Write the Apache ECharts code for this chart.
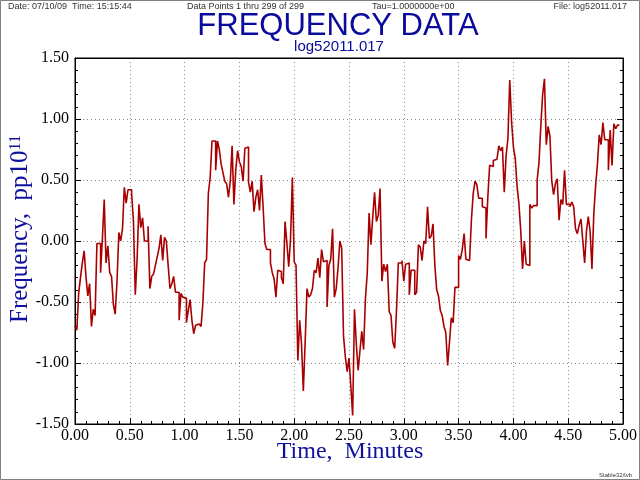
<!DOCTYPE html>
<html><head><meta charset="utf-8">
<script src="https://cdn.jsdelivr.net/npm/echarts@6/dist/echarts.min.js"></script>
<style>html,body{margin:0;padding:0;background:#fff}#c{width:640px;height:480px}</style>
</head><body><div id="c"></div>
<script>
// Frequency samples (pp10^11), one per second, 299 points, grouped by time span
const seg0 = [-0.70,-0.73,-0.43,-0.30,-0.18,-0.08,-0.29,-0.45,-0.35,-0.70,-0.56,-0.61,-0.02,-0.02,-0.26,0.02,0.34,-0.18,-0.04,-0.26,-0.29,-0.52,-0.60,-0.33,0.07,0.00,0.10,0.44,0.31,0.42,0.42,0.39,0.16,-0.44,-0.15,0.30,0.11,0.19];
const seg1 = [0.00,0.00,0.12,-0.39,-0.29,-0.27,-0.20,-0.13,-0.06,0.05,-0.16,0.03,0.00,-0.20,-0.39,-0.35,-0.29,-0.42,-0.42,-0.65,-0.43,-0.46,-0.47,-0.67,-0.57,-0.48,-0.65,-0.76,-0.69,-0.68,-0.69,-0.70,-0.51,-0.18,-0.15,0.39,0.52];
const seg2 = [0.82,0.82,0.58,0.82,0.75,0.63,0.56,0.49,0.47,0.36,0.49,0.78,0.30,0.58,0.74,0.65,0.61,0.49,0.76,0.77,0.48,0.40,0.49,0.24,0.36,0.42,0.25,0.54,0.27,-0.02,-0.07,-0.07,-0.18,-0.26,-0.31,-0.46,-0.24,-0.25];
const seg3 = [-0.30,-0.35,0.16,-0.02,-0.21,0.02,0.52,-0.17,-0.20,-0.98,-0.65,-0.84,-1.23,-0.83,-0.39,-0.46,-0.44,-0.39,-0.24,-0.26,-0.14,-0.30,-0.07,-0.17,-0.16,-0.54,-0.20,-0.15,0.10,-0.46,-0.39,-0.22,0.00,-0.06,-0.78,-0.95];
const seg4 = [-1.07,-0.96,-1.19,-1.43,-0.56,-0.84,-1.06,-0.90,-0.74,-0.89,-0.47,-0.26,0.23,-0.03,0.20,0.40,0.16,0.21,0.43,-0.33,-0.19,-0.25,-0.19,-0.58,-0.61,-0.83,-0.88,-0.57,-0.18,-0.18,-0.16,-0.33,-0.19,-0.18,-0.44,-0.24,-0.24];
const seg5 = [-0.44,-0.42,-0.03,-0.05,-0.16,0.00,-0.02,0.28,0.02,0.04,0.14,-0.20,-0.40,-0.45,-0.57,-0.61,-0.70,-0.75,-1.02,-0.83,-0.63,-0.67,-0.38,-0.38,-0.12,-0.15,-0.07,0.06,-0.15,-0.16,-0.17,0.17,0.39,0.49,0.46,0.35,0.35];
const seg6 = [0.28,0.27,0.02,0.36,0.62,0.61,0.66,0.67,0.66,0.78,0.74,0.77,0.40,0.70,0.84,1.32,0.98,0.77,0.68,0.45,0.31,0.09,-0.23,0.00,-0.19,-0.20,0.30,0.27,0.29,0.29,0.50,0.64,0.94,1.20,1.33,0.79,0.94];
const seg7 = [0.86,0.49,0.38,0.47,0.51,0.17,0.34,0.30,0.58,0.30,0.30,0.28,0.32,0.28,0.10,0.06,0.13,0.18,0.00,-0.18,0.08,0.20,0.08,-0.23,0.22,0.45,0.63,0.87,0.79,0.97,0.83,0.83,0.58,0.91,0.62,0.96,0.92,0.95,0.95];
const sampleSeconds = 1; // tau = 1 s
const xTicks = [0,0.5,1,1.5,2,2.5,3,3.5,4,4.5,5];
const yTicks = [-1.5,-1,-0.5,0,0.5,1,1.5];

const values = [].concat(seg0,seg1,seg2,seg3,seg4,seg5,seg6,seg7);
const data = values.map((v,i)=>[i*sampleSeconds/60, v]);

const serif = "'Liberation Serif', 'DejaVu Serif', serif";
const sans = "'Liberation Sans', Arial, sans-serif";
const blue = '#10109c';
const grid = {type:[1,3], color:'#8a8a8a', width:1};
const axisLine = {show:true, onZero:false, lineStyle:{color:'#000'}};

const chart = echarts.init(document.getElementById('c'), null, {renderer:'canvas'});
chart.setOption({
  animation:false,
  backgroundColor:'#fff',
  grid:{left:75, right:15, top:58, bottom:56, show:true, borderColor:'#000', borderWidth:1},
  xAxis:[{
    type:'value', min:xTicks[0], max:xTicks[xTicks.length-1], interval:0.5, position:'bottom',
    axisLine:axisLine,
    axisTick:{inside:true, length:6, lineStyle:{color:'#000'}},
    minorTick:{show:true, splitNumber:5, length:3, lineStyle:{color:'#000'}},
    axisLabel:{formatter:v=>v.toFixed(2), fontFamily:serif, fontSize:16, color:'#000', margin:4},
    splitLine:{show:true, lineStyle:grid}
  },{
    type:'value', min:0, max:5, interval:0.5, position:'top',
    axisLine:axisLine,
    axisTick:{show:false}, axisLabel:{show:false}, splitLine:{show:false}
  }],
  yAxis:[{
    type:'value', min:yTicks[0], max:yTicks[yTicks.length-1], interval:0.5, position:'left',
    axisLine:axisLine,
    axisTick:{inside:true, length:6, lineStyle:{color:'#000'}},
    minorTick:{show:true, splitNumber:5, length:3, lineStyle:{color:'#000'}},
    axisLabel:{formatter:v=>v.toFixed(2), fontFamily:serif, fontSize:16, color:'#000', margin:6},
    splitLine:{show:true, lineStyle:grid}
  },{
    type:'value', min:-1.5, max:1.5, interval:0.5, position:'right',
    axisLine:axisLine,
    axisTick:{inside:true, length:6, lineStyle:{color:'#000'}},
    minorTick:{show:true, splitNumber:5, length:3, lineStyle:{color:'#000'}},
    axisLabel:{show:false}, splitLine:{show:false}
  }],
  series:[{
    type:'line', step:'end', data:data, showSymbol:false, symbol:'none',
    lineStyle:{color:'#a80000', width:1.6}, xAxisIndex:0, yAxisIndex:0
  }],
  graphic:[
    {type:'rect', shape:{x:0.5,y:0.5,width:639,height:479}, style:{fill:null, stroke:'#808080', lineWidth:1}, silent:true},
    {type:'text', left:8, top:2, style:{text:'Date: 07/10/09  Time: 15:15:44', font:"9px "+sans, fill:'#333'}},
    {type:'text', left:187, top:2, style:{text:'Data Points 1 thru 299 of 299', font:"9px "+sans, fill:'#333'}},
    {type:'text', left:372, top:2, style:{text:'Tau=1.0000000e+00', font:"9px "+sans, fill:'#333'}},
    {type:'text', right:13, top:2, style:{text:'File: log52011.017', font:"9px "+sans, fill:'#333'}},
    {type:'text', x:338, y:26, style:{text:'FREQUENCY DATA', font:"31px "+sans, fill:'#0a0a9c', align:'center', verticalAlign:'middle'}},
    {type:'text', x:339, y:47, style:{text:'log52011.017', font:"15px "+sans, fill:'#0a0a9c', align:'center', verticalAlign:'middle'}},
    {type:'text', x:350, y:452, style:{text:'Time,  Minutes', font:"24px "+serif, fill:blue, align:'center', verticalAlign:'middle'}},
    {type:'text', x:20, y:229, rotation:Math.PI/2, style:{
      text:'{a|Frequency,  pp10}{b|11}', align:'center', verticalAlign:'middle',
      rich:{a:{fontFamily:serif, fontSize:25, fill:blue, color:blue},
            b:{fontFamily:serif, fontSize:16, fill:blue, color:blue, verticalAlign:'top', lineHeight:25, padding:[0,0,8,0]}}
    }},
    {type:'text', right:8, bottom:2, style:{text:'Stable32/lvb', font:"6px "+sans, fill:'#333'}}
  ]
});
</script></body></html>
